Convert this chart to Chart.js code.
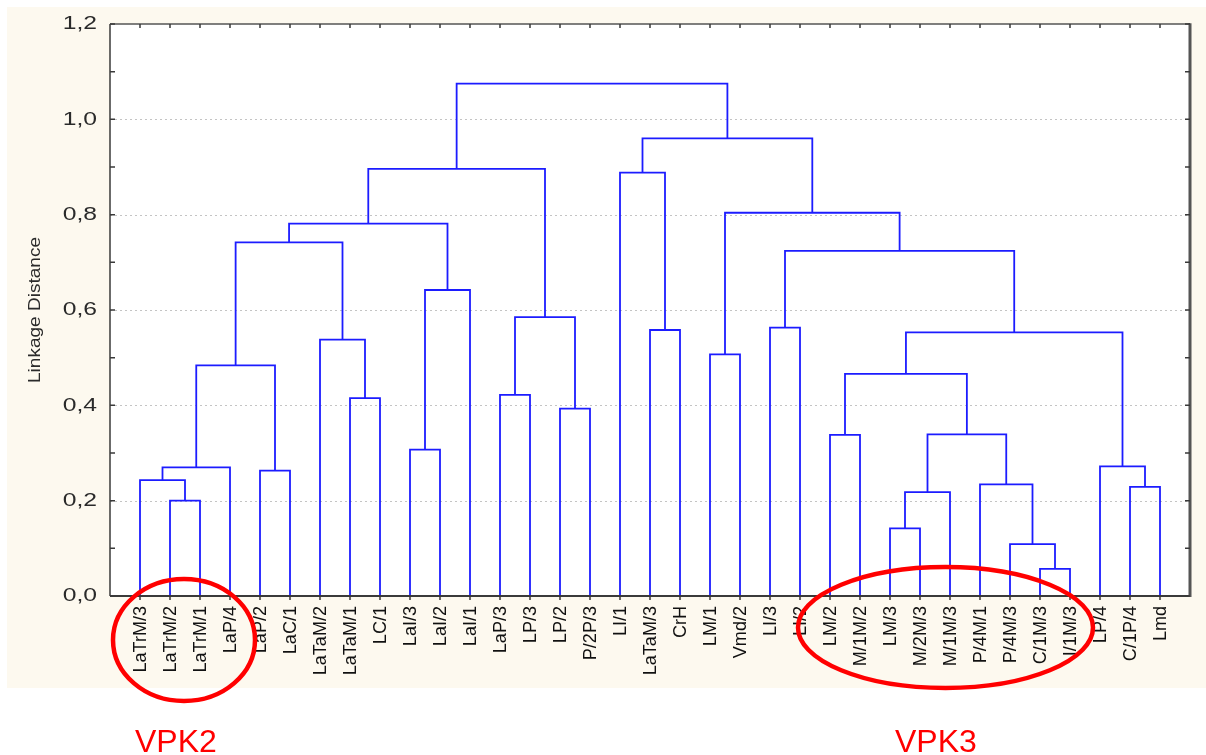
<!DOCTYPE html>
<html>
<head>
<meta charset="utf-8">
<script src="https://cdn.jsdelivr.net/npm/chart.js@4/dist/chart.umd.min.js"></script>
<style>
  html, body { margin: 0; padding: 0; background: #ffffff; }
  #wrap { width: 1206px; height: 755px; }
</style>
</head>
<body>
<div id="wrap"><canvas id="tree" width="1206" height="755"></canvas></div>
<script>
// Leaf order along the horizontal axis
const leaves = [
  'LaTrM/3', 'LaTrM/2', 'LaTrM/1', 'LaP/4', 'LaP/2', 'LaC/1', 'LaTaM/2', 'LaTaM/1',
  'LC/1', 'LaI/3', 'LaI/2', 'LaI/1', 'LaP/3', 'LP/3', 'LP/2', 'P/2P/3',
  'LI/1', 'LaTaM/3', 'CrH', 'LM/1', 'Vmd/2', 'LI/3', 'LI/2', 'LM/2',
  'M/1M/2', 'LM/3', 'M/2M/3', 'M/1M/3', 'P/4M/1', 'P/4M/3', 'C/1M/3', 'I/1M/3',
  'LP/4', 'C/1P/4', 'Lmd'
];

// Agglomeration steps: [left node, right node, linkage distance].
// Nodes 0..34 are leaves; merge k creates node 35 + k.
const mergeLeft  = [1, 0, 36, 4, 37, 7, 6, 39, 9, 43, 42, 12, 14, 46, 45, 17, 16, 19, 21, 23, 25, 55, 30, 29, 28, 56, 54, 33, 32, 61, 53, 52, 51, 49];
const mergeRight = [2, 35, 3, 5, 38, 8, 40, 41, 10, 11, 44, 13, 15, 47, 48, 18, 50, 20, 22, 24, 26, 27, 31, 57, 58, 59, 60, 34, 62, 63, 64, 65, 66, 67];
const mergeDist  = [0.200, 0.243, 0.270, 0.263, 0.484, 0.415, 0.538, 0.742, 0.307, 0.642,
                    0.781, 0.422, 0.393, 0.585, 0.896, 0.558, 0.888, 0.507, 0.563, 0.338,
                    0.142, 0.218, 0.057, 0.109, 0.234, 0.339, 0.466, 0.229, 0.272, 0.553,
                    0.724, 0.804, 0.960, 1.075];

// Vertical axis ticks
const yTickValues = [0, 0.2, 0.4, 0.6, 0.8, 1.0, 1.2];
const yTickLabels = ['0,0', '0,2', '0,4', '0,6', '0,8', '1,0', '1,2'];
const yMinorValues = [0.1, 0.3, 0.5, 0.7, 0.9, 1.1];

// Build one bracket (U shape) per merge, placing clusters at the midpoint of their children
const nodes = leaves.map((_, i) => ({ x: i + 1, h: 0 }));
const datasets = [];
mergeDist.forEach((h, k) => {
  const A = nodes[mergeLeft[k]], B = nodes[mergeRight[k]];
  datasets.push({
    data: [{ x: A.x, y: A.h }, { x: A.x, y: h }, { x: B.x, y: h }, { x: B.x, y: B.h }],
    borderColor: '#1c1cff',
    borderWidth: 1.8,
    pointRadius: 0,
    tension: 0,
    fill: false
  });
  nodes.push({ x: (A.x + B.x) / 2, h });
});

const FONT = '"Liberation Sans", Arial, sans-serif';
const CREAM = '#fdf9ef';

const decor = {
  id: 'decor',
  beforeDraw(chart) {
    const { ctx, chartArea: a } = chart;
    ctx.save();
    ctx.fillStyle = '#ffffff';
    ctx.fillRect(0, 0, chart.width, chart.height);
    ctx.fillStyle = CREAM;
    ctx.fillRect(7, 7, chart.width - 7, 681);
    ctx.fillStyle = '#ffffff';
    ctx.fillRect(a.left, a.top, a.right - a.left, a.bottom - a.top);
    ctx.restore();
  },
  beforeDatasetsDraw(chart) {
    const { ctx, chartArea: a, scales: { y } } = chart;
    ctx.save();
    ctx.strokeStyle = '#c4c4c4';
    ctx.lineWidth = 1;
    ctx.setLineDash([2, 3]);
    yTickValues.forEach(v => {
      if (v === 0 || v === 1.2) return;
      const py = Math.round(y.getPixelForValue(v)) + 0.5;
      ctx.beginPath();
      ctx.moveTo(a.left, py);
      ctx.lineTo(a.right, py);
      ctx.stroke();
    });
    ctx.restore();
  },
  afterDraw(chart) {
    const { ctx, chartArea: a, scales: { x, y } } = chart;
    ctx.save();

    // frame
    ctx.strokeStyle = '#3a3a3a';
    ctx.lineWidth = 1.5;
    ctx.beginPath();
    ctx.moveTo(a.left, a.top); ctx.lineTo(a.left, a.bottom);
    ctx.stroke();
    ctx.lineWidth = 2;
    ctx.beginPath();
    ctx.moveTo(a.left, a.bottom); ctx.lineTo(a.right, a.bottom);
    ctx.stroke();
    ctx.strokeStyle = '#555555';
    ctx.lineWidth = 1.5;
    ctx.beginPath();
    ctx.moveTo(a.left, a.top); ctx.lineTo(a.right, a.top);
    ctx.stroke();
    ctx.lineWidth = 3;
    ctx.beginPath();
    ctx.moveTo(a.right, a.top - 0.75); ctx.lineTo(a.right, a.bottom + 1);
    ctx.stroke();

    // ticks at leaves (bottom outward, top inward)
    ctx.strokeStyle = '#3a3a3a';
    ctx.lineWidth = 1.5;
    leaves.forEach((_, i) => {
      const px = x.getPixelForValue(i + 1);
      ctx.beginPath();
      ctx.moveTo(px, a.bottom); ctx.lineTo(px, a.bottom + 4);
      ctx.moveTo(px, a.top); ctx.lineTo(px, a.top + 4);
      ctx.stroke();
    });
    // side ticks pointing inward
    [...yTickValues, ...yMinorValues].forEach(v => {
      const py = y.getPixelForValue(v);
      ctx.beginPath();
      ctx.moveTo(a.left, py); ctx.lineTo(a.left + 5, py);
      ctx.moveTo(a.right, py); ctx.lineTo(a.right - 5, py);
      ctx.stroke();
    });

    // vertical axis labels
    ctx.fillStyle = '#2a2a2a';
    ctx.font = '19px ' + FONT;
    ctx.textAlign = 'right';
    ctx.textBaseline = 'middle';
    yTickValues.forEach((v, i) => {
      const py = y.getPixelForValue(v);
      ctx.save();
      ctx.translate(97, py);
      ctx.scale(1.3, 1);
      ctx.fillText(yTickLabels[i], 0, 0);
      ctx.restore();
    });

    // leaf labels, reading upward
    ctx.fillStyle = '#111111';
    ctx.font = '19px ' + FONT;
    ctx.textAlign = 'right';
    ctx.textBaseline = 'middle';
    leaves.forEach((name, i) => {
      ctx.save();
      ctx.translate(x.getPixelForValue(i + 1) + 1, a.bottom + 10);
      ctx.rotate(-Math.PI / 2);
      ctx.scale(0.95, 1);
      ctx.fillText(name, 0, 0);
      ctx.restore();
    });

    // axis title
    ctx.fillStyle = '#2a2a2a';
    ctx.font = '17px ' + FONT;
    ctx.textAlign = 'center';
    ctx.save();
    ctx.translate(35, 310);
    ctx.rotate(-Math.PI / 2);
    ctx.scale(1.12, 1);
    ctx.fillText('Linkage Distance', 0, 0);
    ctx.restore();

    // highlighted groups
    ctx.strokeStyle = '#ff0000';
    ctx.lineWidth = 4.5;
    ctx.beginPath();
    ctx.ellipse(184, 640, 71, 61, 0, 0, Math.PI * 2);
    ctx.stroke();
    ctx.beginPath();
    ctx.ellipse(945.5, 627.5, 147.5, 60.5, 0, 0, Math.PI * 2);
    ctx.stroke();

    ctx.fillStyle = '#ff0000';
    ctx.font = '32px ' + FONT;
    ctx.textAlign = 'left';
    ctx.textBaseline = 'alphabetic';
    ctx.fillText('VPK2', 135, 752);
    ctx.fillText('VPK3', 895, 752);

    ctx.restore();
  }
};

new Chart(document.getElementById('tree'), {
  type: 'line',
  data: { datasets },
  options: {
    responsive: false,
    animation: false,
    layout: { padding: { left: 0, right: 16, top: 24, bottom: 0 } },
    plugins: { legend: { display: false }, tooltip: { enabled: false } },
    scales: {
      x: {
        type: 'linear',
        min: 0,
        max: leaves.length + 1,
        grid: { display: false },
        border: { display: false },
        ticks: { display: false },
        afterFit(scale) { scale.height = 159; }
      },
      y: {
        type: 'linear',
        min: 0,
        max: 1.2,
        grid: { display: false },
        border: { display: false },
        ticks: { display: false },
        afterFit(scale) { scale.width = 110; }
      }
    }
  },
  plugins: [decor]
});
</script>
</body>
</html>
